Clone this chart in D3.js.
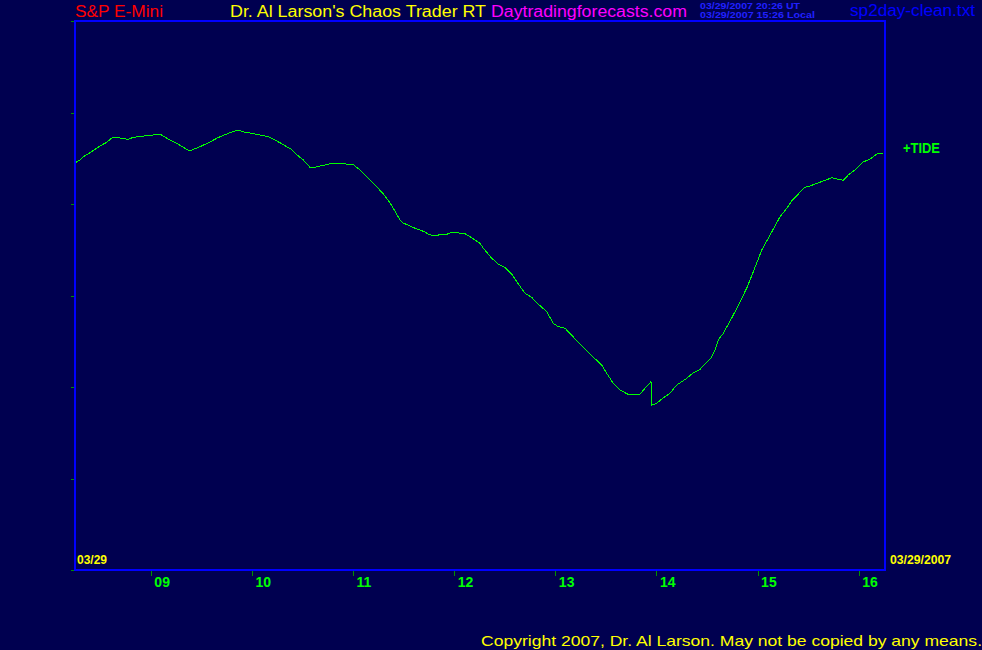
<!DOCTYPE html>
<html><head><meta charset="utf-8">
<script src="https://cdn.jsdelivr.net/npm/d3@7/dist/d3.min.js"></script>
<style>
html,body{margin:0;padding:0;background:#000050;}
svg{display:block;}
text{font-family:"Liberation Sans",Arial,sans-serif;}
</style></head>
<body>
<script>
// ---- data ----
const hours = [8.260,8.299,8.332,8.398,8.497,8.563,8.613,8.629,8.678,8.728,8.777,8.827,8.910,8.992,9.091,9.123,9.189,9.256,9.321,9.370,9.404,9.486,9.585,9.651,9.716,9.783,9.849,9.882,9.931,9.997,10.063,10.112,10.162,10.211,10.277,10.359,10.376,10.458,10.508,10.574,10.623,10.690,10.772,10.903,11.002,11.068,11.118,11.167,11.233,11.299,11.365,11.414,11.464,11.496,11.563,11.629,11.694,11.744,11.793,11.843,11.926,11.991,12.057,12.107,12.156,12.206,12.255,12.288,12.371,12.436,12.502,12.568,12.618,12.700,12.766,12.816,12.915,12.980,13.029,13.096,13.277,13.343,13.458,13.508,13.573,13.639,13.731,13.830,13.887,13.946,13.953,14.002,14.052,14.134,14.200,14.299,14.364,14.431,14.546,14.579,14.611,14.661,14.760,14.826,14.892,14.958,15.041,15.123,15.222,15.288,15.337,15.419,15.469,15.518,15.585,15.650,15.733,15.782,15.848,15.897,15.963,16.045,16.112,16.178,16.243];
const tide = [44.56,44.81,45.17,45.61,46.34,46.74,47.21,47.29,47.25,47.14,47.07,47.29,47.40,47.51,47.62,47.43,46.99,46.63,46.20,45.87,45.90,46.26,46.78,47.18,47.51,47.79,48.05,48.01,47.84,47.73,47.57,47.46,47.36,47.07,46.70,46.15,46.09,45.25,44.81,44.01,44.01,44.19,44.40,44.40,44.30,43.72,43.17,42.62,41.89,41.09,40.14,39.23,38.25,37.92,37.60,37.27,37.02,36.72,36.50,36.61,36.69,36.94,36.80,36.75,36.43,36.07,35.70,35.16,34.07,33.44,33.08,32.35,31.51,30.24,29.80,29.21,28.23,26.96,26.59,26.42,24.30,23.61,22.40,21.50,20.40,19.67,19.13,19.13,19.86,20.58,18.03,18.22,18.69,19.31,20.22,20.95,21.56,21.93,23.28,24.04,25.14,25.87,27.87,29.32,30.79,32.60,34.97,36.61,38.61,39.53,40.33,41.28,41.83,41.97,42.26,42.51,42.87,42.73,42.59,43.17,43.72,44.59,44.92,45.46,45.54];
const hourTicks = [9,10,11,12,13,14,15,16];
const hourLabels = ["09","10","11","12","13","14","15","16"];
const valueTicks = [0,10,20,30,40,50,60];
const seriesName = "+TIDE";
const startDate = "03/29";
const endDate = "03/29/2007";
const titles = {
  symbol: "S&P E-Mini",
  main: "Dr. Al Larson's Chaos Trader RT",
  site: "Daytradingforecasts.com",
  ut: "03/29/2007 20:26 UT",
  local: "03/29/2007 15:26 Local",
  file: "sp2day-clean.txt",
  copy: "Copyright 2007, Dr. Al Larson. May not be copied by any means."
};

// ---- chart ----
const W = 982, H = 650;
const svg = d3.select("body").append("svg").attr("width", W).attr("height", H);
svg.append("rect").attr("width", W).attr("height", H).attr("fill", "#000050");

const x = d3.scaleLinear().domain([8.25, 16.25]).range([75, 884]);
const y = d3.scaleLinear().domain([0, 60]).range([570, 21]);

// y ticks (no labels)
const ya = svg.append("g").attr("transform", "translate(74,0)")
  .call(d3.axisLeft(y).tickValues(valueTicks).tickSize(3).tickFormat(""));
ya.select(".domain").remove();
ya.selectAll("line").attr("stroke", "#009000").attr("shape-rendering", "crispEdges");

// x ticks
const xa = svg.append("g").attr("transform", "translate(0,571)")
  .call(d3.axisBottom(x).tickValues(hourTicks).tickSize(5)
    .tickFormat((d, i) => hourLabels[i]));
xa.select(".domain").remove();
xa.selectAll("line").attr("stroke", "#009000").attr("shape-rendering", "crispEdges");
xa.selectAll("text").attr("fill", "#00ff00").attr("font-size", 14).attr("font-weight", "bold")
  .attr("text-anchor", "start").attr("x", 3).attr("y", 16).attr("dy", 0)
  .attr("font-family", "Liberation Sans, Arial, sans-serif");

// frame
svg.append("rect").attr("x", 75).attr("y", 21).attr("width", 810).attr("height", 549)
  .attr("fill", "none").attr("stroke", "#0000ff").attr("stroke-width", 2)
  .attr("shape-rendering", "crispEdges");

// line
const pts = hours.map((h, i) => [h, tide[i]]);
svg.append("path").datum(pts)
  .attr("fill", "none").attr("stroke", "#00ff00").attr("stroke-width", 1)
  .attr("shape-rendering", "crispEdges")
  .attr("d", d3.line().x(d => x(d[0])).y(d => y(d[1])));

// texts
function txt(s, xx, yy, col, size, weight, len) {
  const t = svg.append("text").attr("x", xx).attr("y", yy).attr("fill", col)
    .attr("font-size", size).attr("font-weight", weight || "normal").text(s);
  if (len) t.attr("textLength", len).attr("lengthAdjust", "spacingAndGlyphs");
  return t;
}
txt(titles.symbol, 75, 17, "#ff0000", 16, "normal", 88);
txt(titles.main, 230, 17, "#ffff00", 16, "normal", 256);
txt(titles.site, 491, 17, "#ff00ff", 16, "normal", 196);
txt(titles.ut, 700, 9, "#2020ff", 9, "bold", 100);
txt(titles.local, 700, 18, "#2020ff", 9, "bold", 115);
txt(titles.file, 850, 16, "#0000ff", 16, "normal", 125);
txt(startDate, 77, 564, "#ffff00", 13, "bold", 30);
txt(endDate, 890, 564, "#ffff00", 13, "bold", 61);
txt(seriesName, 903, 153, "#00ff00", 14, "bold", 37);
txt(titles.copy, 481, 646, "#ffff00", 15, "normal", 501);
</script>
</body></html>
